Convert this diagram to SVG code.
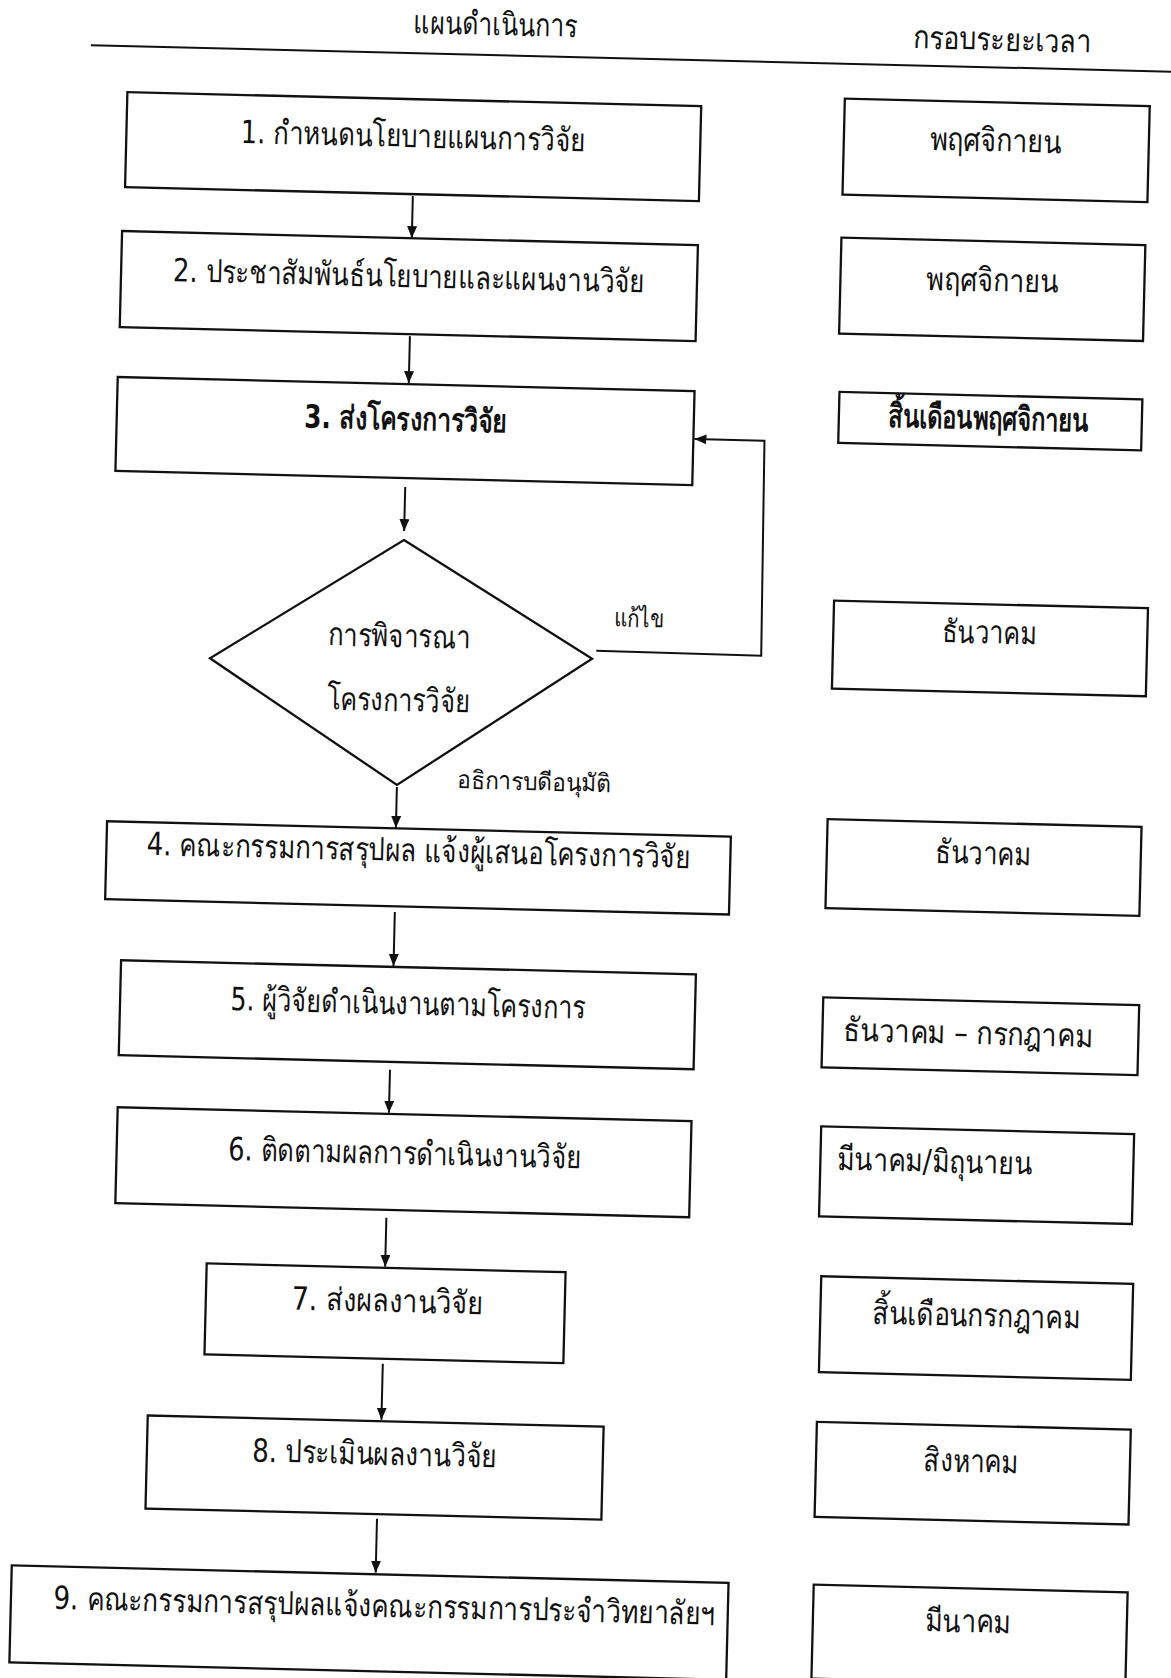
<svg xmlns="http://www.w3.org/2000/svg" width="1171" height="1678" viewBox="0 0 1171 1678">
<style>
.b{fill:none;stroke:#111;stroke-width:2.3}
.c{fill:none;stroke:#111;stroke-width:2}
.t{font-family:"DejaVu Sans","Noto Sans",sans-serif;font-size:32px;fill:#111;text-anchor:middle}
.bd{font-weight:bold}
.s{font-size:25px}
</style>
<defs>
<marker id="ah" markerUnits="userSpaceOnUse" markerWidth="12" markerHeight="12" refX="12" refY="5" orient="auto">
<path d="M0,0 L12,5 L0,10 z" fill="#111"/>
</marker>
</defs>
<rect width="1171" height="1678" fill="#fff"/>
<g transform="rotate(1.4)">
<g id="header">
<text class="t" x="496" y="23" textLength="164" lengthAdjust="spacingAndGlyphs">แผนดำเนินการ</text>
<text class="t" x="1003" y="26" textLength="179" lengthAdjust="spacingAndGlyphs">กรอบระยะเวลา</text>
<line class="c" x1="92" y1="43" x2="1200" y2="43"/>
</g>
<g id="n1"><rect class="b" x="129.6" y="89" width="574" height="95"/><text class="t" x="416.5" y="137" textLength="345" lengthAdjust="spacingAndGlyphs">1. กำหนดนโยบายแผนการวิจัย</text></g>
<g id="n2"><rect class="b" x="127.7" y="228" width="576" height="96"/><text class="t" x="415.6" y="277" textLength="472" lengthAdjust="spacingAndGlyphs">2. ประชาสัมพันธ์นโยบายและแผนงานวิจัย</text></g>
<g id="n3"><rect class="b" x="126.9" y="374" width="577" height="94"/><text class="t bd" x="415.9" y="420" textLength="203" lengthAdjust="spacingAndGlyphs">3. ส่งโครงการวิจัย</text></g>
<g id="d1"><polygon class="b" points="417,530 608,644 416,775 226,653"/><text class="t" x="414.8" y="637" textLength="142" lengthAdjust="spacingAndGlyphs">การพิจารณา</text><text class="t" x="415.3" y="701" textLength="143" lengthAdjust="spacingAndGlyphs">โครงการวิจัย</text></g>
<g id="n4"><rect class="b" x="127.1" y="818.4" width="624" height="78"/><text class="t" x="439.3" y="851" textLength="544" lengthAdjust="spacingAndGlyphs">4. คณะกรรมการสรุปผล แจ้งผู้เสนอโครงการวิจัย</text></g>
<g id="n5"><rect class="b" x="144.5" y="957" width="575" height="95"/><text class="t" x="432.3" y="1004" textLength="355" lengthAdjust="spacingAndGlyphs">5. ผู้วิจัยดำเนินงานตามโครงการ</text></g>
<g id="n6"><rect class="b" x="144.7" y="1104" width="574" height="96"/><text class="t" x="432.8" y="1154" textLength="353" lengthAdjust="spacingAndGlyphs">6. ติดตามผลการดำเนินงานวิจัย</text></g>
<g id="n7"><rect class="b" x="237.5" y="1258" width="359" height="91"/><text class="t" x="419.3" y="1302" textLength="192" lengthAdjust="spacingAndGlyphs">7.  ส่งผลงานวิจัย</text></g>
<g id="n8"><rect class="b" x="182.3" y="1411.5" width="456" height="93"/><text class="t" x="410.1" y="1455" textLength="245" lengthAdjust="spacingAndGlyphs">8. ประเมินผลงานวิจัย</text></g>
<g id="n9"><rect class="b" x="50" y="1564.6" width="717" height="97"/><text class="t" x="423.5" y="1607" textLength="662" lengthAdjust="spacingAndGlyphs">9. คณะกรรมการสรุปผลแจ้งคณะกรรมการประจำวิทยาลัยฯ</text></g>
<g id="r1"><rect class="b" x="847" y="78" width="305" height="96"/><text class="t" x="999" y="127" textLength="132" lengthAdjust="spacingAndGlyphs">พฤศจิกายน</text></g>
<g id="r2"><rect class="b" x="847" y="217" width="304" height="96"/><text class="t" x="999" y="267" textLength="132" lengthAdjust="spacingAndGlyphs">พฤศจิกายน</text></g>
<g id="r3"><rect class="b" x="848.8" y="371.3" width="303" height="51"/><text class="t bd" x="998.2" y="405" textLength="200" lengthAdjust="spacingAndGlyphs">สิ้นเดือนพฤศจิกายน</text></g>
<g id="r4"><rect class="b" x="848.5" y="580" width="314" height="88"/><text class="t" x="1004.5" y="619" textLength="95" lengthAdjust="spacingAndGlyphs">ธันวาคม</text></g>
<g id="r5"><rect class="b" x="847.4" y="798.7" width="314" height="89"/><text class="t" x="1003.4" y="840" textLength="96" lengthAdjust="spacingAndGlyphs">ธันวาคม</text></g>
<g id="r6"><rect class="b" x="847.4" y="977" width="316" height="70"/><text class="t" x="993" y="1020" textLength="250" lengthAdjust="spacingAndGlyphs">ธันวาคม  – กรกฎาคม</text></g>
<g id="r7"><rect class="b" x="848.5" y="1106" width="313" height="90"/><text class="t" x="962.9" y="1149" textLength="195" lengthAdjust="spacingAndGlyphs">มีนาคม/มิถุนายน</text></g>
<g id="r8"><rect class="b" x="852.2" y="1255.8" width="312" height="96"/><text class="t" x="1008.3" y="1302" textLength="208" lengthAdjust="spacingAndGlyphs">สิ้นเดือนกรกฎาคม</text></g>
<g id="r9"><rect class="b" x="851.4" y="1401.5" width="314" height="95"/><text class="t" x="1006.6" y="1448" textLength="95" lengthAdjust="spacingAndGlyphs">สิงหาคม</text></g>
<g id="r10"><rect class="b" x="852.2" y="1564.3" width="314" height="94"/><text class="t" x="1007.2" y="1608" textLength="86" lengthAdjust="spacingAndGlyphs">มีนาคม</text></g>
<g id="connectors">
<line class="c" x1="417.5" y1="186" x2="417.5" y2="228" marker-end="url(#ah)"/>
<line class="c" x1="418" y1="326" x2="418" y2="373" marker-end="url(#ah)"/>
<line class="c" x1="417" y1="477" x2="417" y2="521" marker-end="url(#ah)"/>
<line class="c" x1="416" y1="777" x2="416" y2="818" marker-end="url(#ah)"/>
<line class="c" x1="417" y1="902" x2="417" y2="956" marker-end="url(#ah)"/>
<line class="c" x1="416" y1="1060" x2="416" y2="1103" marker-end="url(#ah)"/>
<line class="c" x1="416" y1="1208" x2="416" y2="1257" marker-end="url(#ah)"/>
<line class="c" x1="416" y1="1354" x2="416" y2="1410" marker-end="url(#ah)"/>
<line class="c" x1="414" y1="1509" x2="414" y2="1563" marker-end="url(#ah)"/>
<polyline class="c" points="612,636 777,637 775,422 705,422" marker-end="url(#ah)"/>
<text class="t s" x="654" y="611" textLength="50" lengthAdjust="spacingAndGlyphs">แก้ไข</text>
<text class="t s" x="553" y="777" textLength="153" lengthAdjust="spacingAndGlyphs">อธิการบดีอนุมัติ</text>
</g>
</g>
</svg>
